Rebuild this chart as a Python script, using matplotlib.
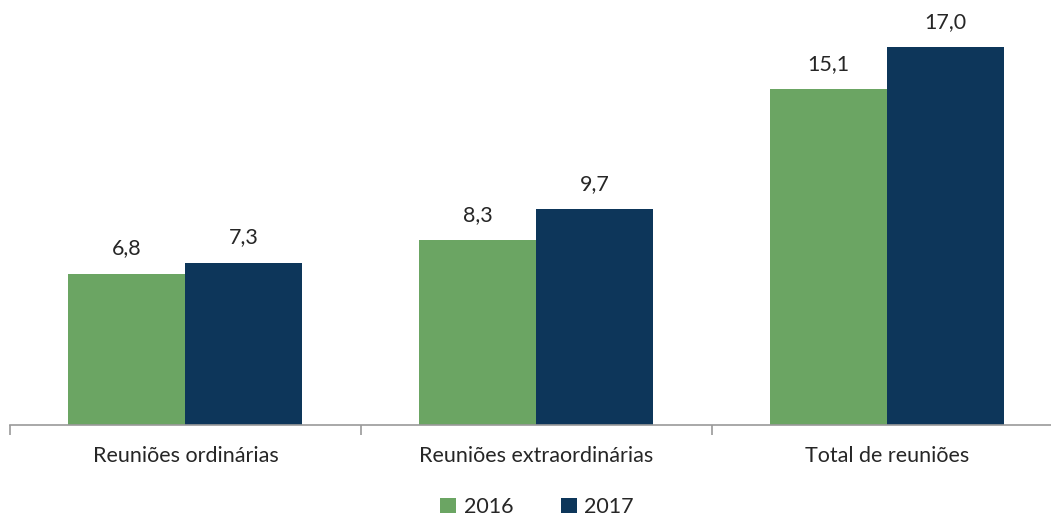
import matplotlib
matplotlib.use("Agg")
import matplotlib.pyplot as plt
import numpy as np

categorias = ["Reuniões ordinárias", "Reuniões extraordinárias", "Total de reuniões"]
anos = ["2016", "2017"]
valores_2016 = [6.8, 8.3, 15.1]
valores_2017 = [7.3, 9.7, 17.0]
cores = ["#6ba563", "#0d365a"]

plt.rcParams["font.family"] = ["Lato", "DejaVu Sans"]

fig = plt.figure(figsize=(10.51, 5.2), dpi=100)
ax = fig.add_axes([10 / 1051, 1 - 425 / 520, 1052.5 / 1051, 400.3 / 520])

x = np.arange(len(categorias))
largura = 1 / 3
series = [valores_2016, valores_2017]
for i, (ano, vals) in enumerate(zip(anos, series)):
    pos = x + (i - 0.5) * largura
    barras = ax.bar(pos, vals, largura, color=cores[i], label=ano, zorder=2)
    for b, v in zip(barras, vals):
        ax.annotate(f"{v:.1f}".replace(".", ","),
                    (b.get_x() + b.get_width() / 2, b.get_height()),
                    xytext=(0, 11), textcoords="offset points",
                    ha="center", va="bottom", fontsize=15.5, color="#262626")

ax.set_xlim(-0.5, 2.5)
ax.set_ylim(0, 18)
ax.set_yticks([])
for s in ["top", "right", "left"]:
    ax.spines[s].set_visible(False)
ax.spines["bottom"].set_color("#9a9a9a")
ax.spines["bottom"].set_linewidth(1.2)

# marcas entre categorias
ax.set_xticks([-0.5, 0.5, 1.5, 2.5], minor=False)
ax.set_xticklabels([])
ax.tick_params(axis="x", length=7, width=1.2, color="#9a9a9a")
for xi, nome in zip(x, categorias):
    ax.text(xi, -0.95, nome, ha="center", va="top", fontsize=15.5, color="#262626")

fig.legend(loc="center", bbox_to_anchor=(537 / 1051, 1 - 507 / 520), ncol=2,
           frameon=False, fontsize=15.5, handlelength=0.75, handleheight=0.75,
           handletextpad=0.35, columnspacing=2.2, labelcolor="#262626")

fig.savefig("out.png", dpi=100)
